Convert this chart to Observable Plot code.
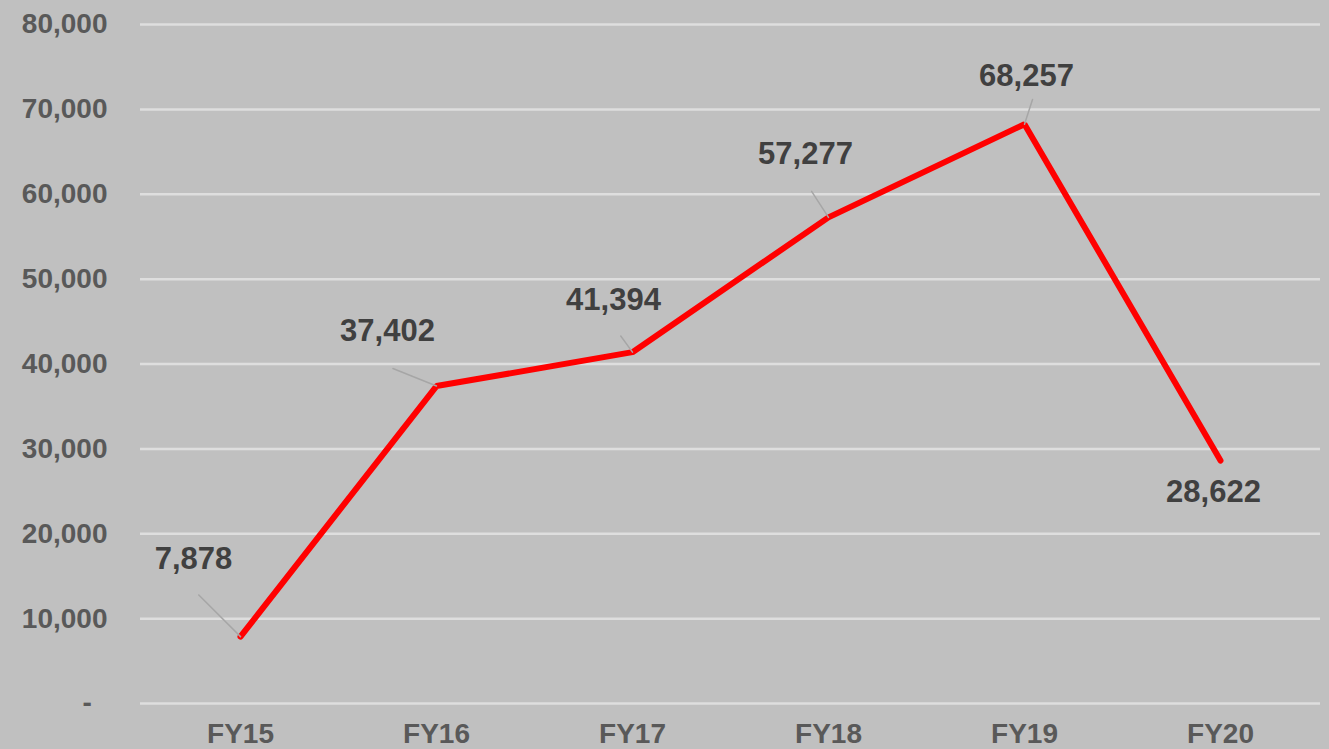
<!DOCTYPE html>
<html>
<head>
<meta charset="utf-8">
<script src="https://cdn.jsdelivr.net/npm/d3@7"></script>
<script src="https://cdn.jsdelivr.net/npm/@observablehq/plot@0.6"></script>
<style>
  html, body { margin: 0; padding: 0; background: #c0c0c0; overflow: hidden; }
  #chart { width: 1329px; height: 749px; }
</style>
</head>
<body>
<div id="chart"></div>
<script>
// Data
const years = ["FY15", "FY16", "FY17", "FY18", "FY19", "FY20"];
const values = [7878, 37402, 41394, 57277, 68257, 28622];
const yTicks = [0, 10000, 20000, 30000, 40000, 50000, 60000, 70000, 80000];

// Label placement (pixel offsets of the value labels and leader lines)
const labelDx = [-47, -49, -19, -23, 2, -7];
const labelDy = [-78, -55, -52, -63, -48, 32];
const leaderLen = [59, 47, 20, 31, 26, 0];
const leaderRot = [-45, -68, -36, -33, 18, 0];

const data = years.map((year, i) => ({year, value: values[i]}));

const fmt = d3.format(",");
const lineShape = {
  draw(context, l) {
    context.moveTo(0, 0);
    context.lineTo(0, -l);
  }
};

const labelMarks = data.map((d, i) => [
  leaderLen[i] > 0 ? Plot.vector([d], {
    x: "year", y: "value",
    length: leaderLen[i],
    rotate: leaderRot[i],
    anchor: "start",
    shape: lineShape,
    stroke: "#a6a6a6",
    strokeWidth: 1.5
  }) : null,
  Plot.text([d], {
    x: "year", y: "value",
    text: (v) => fmt(v.value),
    dx: labelDx[i], dy: labelDy[i],
    fontSize: 31, fontWeight: "bold", fill: "#404040",
    fontFamily: "Liberation Sans, Arial, sans-serif"
  })
]).flat().filter(Boolean);

const chart = Plot.plot({
  width: 1329,
  height: 749,
  marginLeft: 140,
  marginRight: 9,
  marginTop: 24,
  marginBottom: 46,
  style: {
    background: "#c0c0c0",
    fontFamily: "Liberation Sans, Arial, sans-serif",
    overflow: "visible"
  },
  x: { type: "point", domain: years, padding: 0.5, label: null },
  y: { domain: [0, 80000], label: null },
  marks: [
    Plot.gridY(yTicks, { stroke: "#dedede", strokeOpacity: 1, strokeWidth: 2.5 }),
    Plot.axisY(yTicks, {
      tickSize: 0, tickPadding: 33, label: null,
      tickFormat: (d) => d === 0 ? "-\u00a0\u00a0" : fmt(d),
      fontSize: 28, fontWeight: "bold", fill: "#595959"
    }),
    Plot.axisX(years, {
      tickSize: 0, tickPadding: 20, label: null,
      fontSize: 28, fontWeight: "bold", fill: "#595959"
    }),
    Plot.line(data, {
      x: "year", y: "value",
      stroke: "#ff0000", strokeWidth: 6,
      strokeLinejoin: "miter", strokeLinecap: "round"
    }),
    ...labelMarks
  ]
});

document.getElementById("chart").appendChild(chart);
</script>
</body>
</html>
